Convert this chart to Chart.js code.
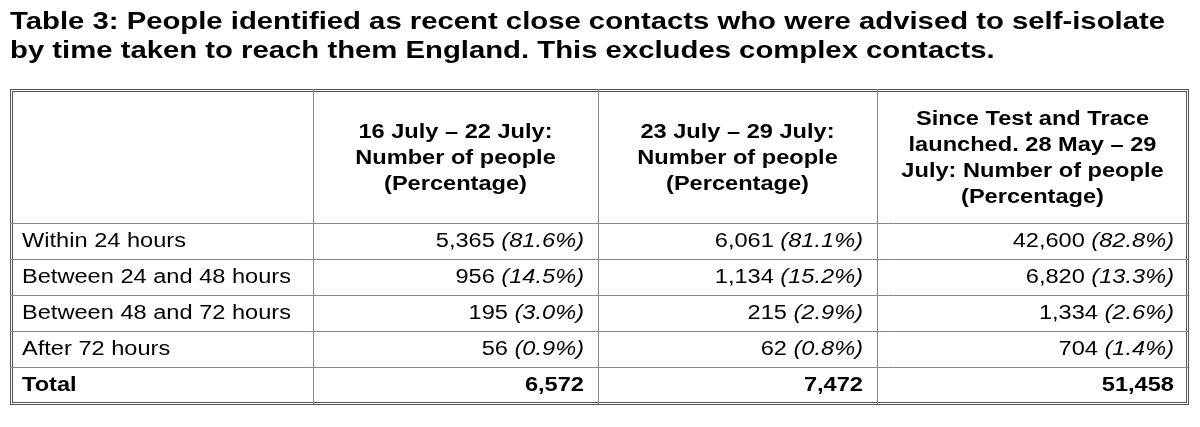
<!DOCTYPE html>
<html><head><meta charset="utf-8">
<script src="https://cdn.jsdelivr.net/npm/chart.js@4"></script>
<style>html,body{margin:0;padding:0;background:#fff}#w{width:1200px;height:427px}</style>
</head><body><div id="w"><canvas id="c"></canvas></div>
<script>
const titleLines = ["Table 3: People identified as recent close contacts who were advised to self-isolate","by time taken to reach them England. This excludes complex contacts."];
const columnHeaders = [
  ["16 July – 22 July:","Number of people","(Percentage)"],
  ["23 July – 29 July:","Number of people","(Percentage)"],
  ["Since Test and Trace","launched. 28 May – 29","July: Number of people","(Percentage)"]
];
const categories = ["Within 24 hours","Between 24 and 48 hours","Between 48 and 72 hours","After 72 hours"];
const week1 = [5365,956,195,56];
const week1Pct = ["81.6%","14.5%","3.0%","0.9%"];
const week2 = [6061,1134,215,62];
const week2Pct = ["81.1%","15.2%","2.9%","0.8%"];
const cumulative = [42600,6820,1334,704];
const cumulativePct = ["82.8%","13.3%","2.6%","1.4%"];
const totals = [6572,7472,51458];

const colX=[10,313,598,877,1188];
const rowY=[89,223,259,295,331,367,404];
const fmt=n=>n.toLocaleString('en-GB');
const FONT='"Liberation Sans", Arial, sans-serif';
const SX=1.18;

function txt(ctx,s,x,y,align,sx){
  sx=sx||SX;const w=ctx.measureText(s).width*sx;
  let left=align==='left'?x:align==='right'?x-w:x-w/2;
  ctx.save();ctx.translate(left,y);ctx.scale(sx,1);ctx.textAlign='left';ctx.fillText(s,0,0);ctx.restore();
  return w;
}

const tablePlugin={id:'table',afterDraw(chart){
  const ctx=chart.ctx, X=v=>chart.scales.x.getPixelForValue(v), Y=v=>chart.scales.y.getPixelForValue(v);
  ctx.save();
  ctx.fillStyle='#000';ctx.textBaseline='middle';
  ctx.font='bold 24px '+FONT;
  const tsx=(X(1165)-X(10))/ctx.measureText(titleLines[0]).width;
  txt(ctx,titleLines[0],X(10),Y(22),'left',tsx);txt(ctx,titleLines[1],X(10),Y(51),'left',tsx);
  ctx.strokeStyle='#555';ctx.lineWidth=1;
  ctx.strokeRect(X(colX[0])+0.5,Y(rowY[0])+0.5,X(colX[4])-X(colX[0]),Y(rowY[6])-Y(rowY[0]));
  ctx.strokeRect(X(colX[0])+2.5,Y(rowY[0])+2.5,X(colX[4])-X(colX[0])-4,Y(rowY[6])-Y(rowY[0])-4);
  ctx.strokeStyle='#888';
  for(let i=1;i<4;i++){ctx.beginPath();ctx.moveTo(X(colX[i])+0.5,Y(rowY[0]));ctx.lineTo(X(colX[i])+0.5,Y(rowY[6]));ctx.stroke();}
  for(let j=1;j<6;j++){ctx.beginPath();ctx.moveTo(X(colX[0]),Y(rowY[j])+0.5);ctx.lineTo(X(colX[4]),Y(rowY[j])+0.5);ctx.stroke();}
  ctx.font='bold 20px '+FONT;
  columnHeaders.forEach((h,i)=>{const cx=(X(colX[i+1])+X(colX[i+2]))/2;const mid=(Y(rowY[0])+Y(rowY[1]))/2;
    h.forEach((l,k)=>txt(ctx,l,cx,mid+(k-(h.length-1)/2)*26+2,'center'));});
  const cols=[[week1,week1Pct],[week2,week2Pct],[cumulative,cumulativePct]];
  categories.forEach((c,r)=>{const cy=(Y(rowY[r+1])+Y(rowY[r+2]))/2;
    ctx.font='20px '+FONT;txt(ctx,c,X(22),cy,'left');
    cols.forEach((col,i)=>{const rx=X(colX[i+2])-14;
      ctx.font='italic 20px '+FONT;const w=txt(ctx,'('+col[1][r]+')',rx,cy,'right');
      ctx.font='20px '+FONT;txt(ctx,fmt(col[0][r])+' ',rx-w,cy,'right');});
  });
  const ty=(Y(rowY[5])+Y(rowY[6]))/2;
  ctx.font='bold 20px '+FONT;txt(ctx,'Total',X(22),ty,'left');
  totals.forEach((t,i)=>txt(ctx,fmt(t),X(colX[i+2])-14,ty,'right'));
  ctx.restore();
}};
new Chart(document.getElementById('c'),{type:'scatter',data:{datasets:[{data:[]}]},
 options:{responsive:true,maintainAspectRatio:false,animation:false,layout:{padding:0},
  plugins:{legend:{display:false},tooltip:{enabled:false}},
  scales:{x:{type:'linear',min:0,max:1200,display:false},y:{type:'linear',min:0,max:427,reverse:true,display:false}}},
 plugins:[tablePlugin]});
</script></body></html>
